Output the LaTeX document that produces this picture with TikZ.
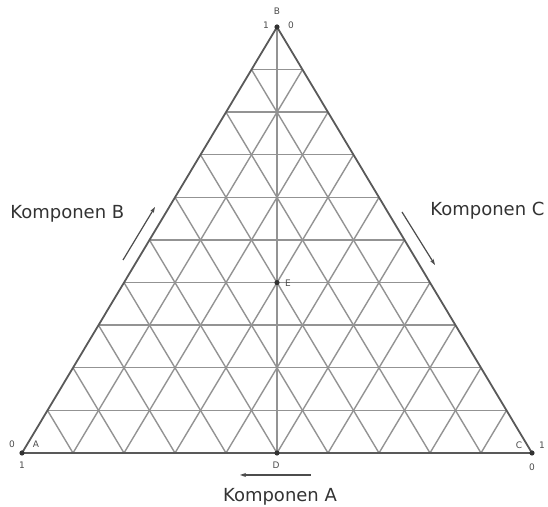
\documentclass[tikz,border=0pt]{standalone}
\usepackage{fontspec}
\setmainfont{DejaVu Sans}
\usetikzlibrary{calc,arrows.meta}

\begin{document}
\begin{tikzpicture}[x=0.5pt,y=-0.5pt,
    grid/.style={draw=gray!85, line width=0.7pt},
    rim/.style={draw=black!65, line width=0.9pt},
    tick/.style={font=\fontsize{4.5}{5}\selectfont, text=black!70, inner sep=0pt},
    comp/.style={font=\fontsize{9}{10}\selectfont, text=black!80, inner sep=0pt},
    dir/.style={draw=black!70, line width=0.6pt, -{Stealth[length=3pt,width=2pt]}}]
  \useasboundingbox (0,0) rectangle (548,507);
  \coordinate (A) at (22,453);
  \coordinate (B) at (277,27);
  \coordinate (C) at (532,453);
  \coordinate (D) at (277,453);
  \coordinate (E) at ($(D)!0.4!(B)$);
  % grid
  \foreach \k in {1,...,9} {
    \draw[grid] ($(A)!\k/10!(B)$) -- ($(C)!\k/10!(B)$);
    \draw[grid] ($(A)!\k/10!(C)$) -- ($(B)!\k/10!(C)$);
    \draw[grid] ($(C)!\k/10!(A)$) -- ($(B)!\k/10!(A)$);
  }
  \draw[grid] (B) -- (D);
  \draw[rim] (A) -- (B) -- (C) -- cycle;
  \foreach \p in {A,B,C,D,E} \fill[black!80] (\p) circle (1.3pt);
  % corner marks
  \node[tick] (lb) at (277,11) {B};
  \node[tick] (b1) at (266,25) {1};
  \node[tick] (b0) at (291,25) {0};
  \node[tick] (la) at (36,444) {A};
  \node[tick] (a0) at (12,444) {0};
  \node[tick] (a1) at (22,465) {1};
  \node[tick] (lc) at (519,445) {C};
  \node[tick] (c1) at (542,445) {1};
  \node[tick] (c0) at (532,467) {0};
  \node[tick] (ld) at (276,465) {D};
  \node[tick] (le) at (288,283) {E};
  % components
  \node[comp, anchor=west] (kb) at (10,214) {Komponen B};
  \node[comp, anchor=west] (kc) at (430,211) {Komponen C};
  \node[comp] (ka) at (280,497) {Komponen A};
  \coordinate (b-from) at (123,260);
  \coordinate (b-to) at (155,207);
  \coordinate (c-from) at (402,212);
  \coordinate (c-to) at (435,265);
  \coordinate (a-from) at (311,475);
  \coordinate (a-to) at (240,475);
  \draw[dir] (b-from) -- (b-to);
  \draw[dir] (c-from) -- (c-to);
  \draw[dir] (a-from) -- (a-to);
\end{tikzpicture}
\end{document}
